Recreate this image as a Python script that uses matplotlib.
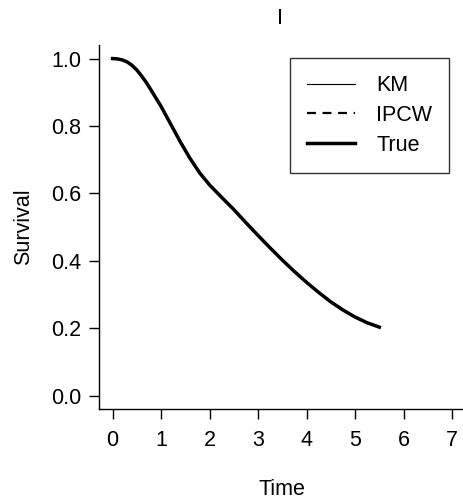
import matplotlib.pyplot as plt
import numpy as np

# values
time = [0.0, 0.1, 0.2, 0.3, 0.4, 0.5, 0.6, 0.7, 0.8, 1.0, 1.2, 1.4, 1.6, 1.8, 2.0, 2.25,
        2.5, 2.75, 3.0, 3.25, 3.5, 3.75, 4.0, 4.25, 4.5, 4.75, 5.0, 5.25, 5.5]
surv_true = [1.0, 0.999, 0.996, 0.99, 0.98, 0.966, 0.948, 0.928, 0.905, 0.858, 0.805,
             0.752, 0.703, 0.66, 0.625, 0.588, 0.552, 0.513, 0.475, 0.438, 0.402,
             0.368, 0.336, 0.306, 0.278, 0.254, 0.233, 0.216, 0.203]
surv_km = surv_true
surv_ipcw = surv_true

xticks = [0, 1, 2, 3, 4, 5, 6, 7]
yticks = [0.0, 0.2, 0.4, 0.6, 0.8, 1.0]

plt.rcParams['font.family'] = ['Liberation Sans', 'DejaVu Sans']
fs = 15.5

fig = plt.figure(figsize=(4.64, 5.01), dpi=100)
ax = fig.add_axes([0.2134, 0.1836, 0.79, 0.7264])

ax.plot(time, surv_km, '-', c='k', lw=0.8, label='KM')
ax.plot(time, surv_ipcw, '--', c='k', lw=1.6, dashes=(4, 3), label='IPCW')
ax.plot(time, surv_true, '-', c='k', lw=2.5, label='True')

ax.set_xlim(-0.28, 7.28)
ax.set_ylim(-0.04, 1.04)
ax.set_xticks(xticks)
ax.set_yticks(yticks)
ax.set_yticklabels(['%.1f' % v for v in yticks])
ax.spines['top'].set_visible(False)
ax.spines['right'].set_visible(False)
for s in ['left', 'bottom']:
    ax.spines[s].set_linewidth(1.0)
ax.tick_params(axis='both', direction='out', length=7, width=1.0, labelsize=fs)
ax.tick_params(axis='x', pad=8)
ax.tick_params(axis='y', pad=6)

ax.set_xlabel('Time', fontsize=fs, labelpad=20)
ax.set_ylabel('Survival', fontsize=fs, labelpad=12)
fig.text(0.603, 0.964, 'I', ha='center', va='center', fontsize=fs)

leg = ax.legend(loc='upper left', bbox_to_anchor=(0.521, 0.964), fontsize=fs,
                frameon=True, fancybox=False, handlelength=2.2, labelspacing=0.4,
                borderpad=0.8, handletextpad=1.0, borderaxespad=0)
leg.get_frame().set_edgecolor('k')
leg.get_frame().set_linewidth(1.0)

fig.savefig('out.png', dpi=100)
